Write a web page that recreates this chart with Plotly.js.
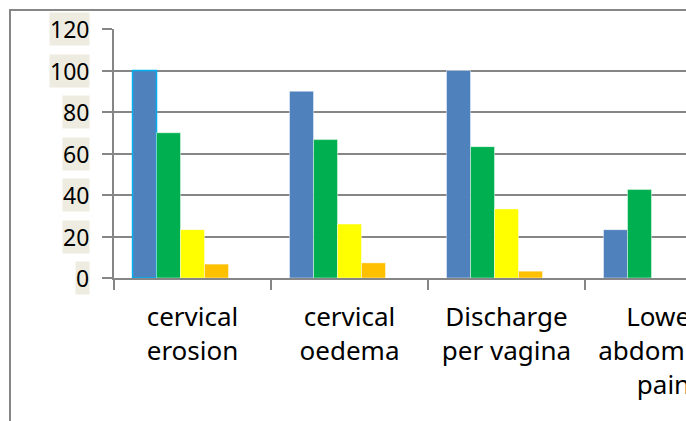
<!DOCTYPE html>
<html>
<head>
<meta charset="utf-8">
<script src="https://cdn.plot.ly/plotly-3.0.1.min.js"></script>
<style>html,body{margin:0;padding:0;background:#fff;}#chart{width:686px;height:421px;}</style>
</head>
<body>
<div id="chart"></div>
<script>
// Data
var categories = ['cervical<br>erosion', 'cervical<br>oedema', 'Discharge<br>per vagina', 'Lower<br>abdominal<br>pain'];
var series1 = [100, 90, 100, 23.3];
var series2 = [70, 66.7, 63.3, 42.7];
var series3 = [23.3, 26, 33.3, 0];
var series4 = [6.7, 7.3, 3.3, 0];
var series5 = [0, 0, 0, 0];
var yTicks = [0, 20, 40, 60, 80, 100, 120];

var colors = ['#4F81BD', '#00B050', '#FFFF00', '#FFC000', '#8064A2'];
var allSeries = [series1, series2, series3, series4, series5];

var traces = allSeries.map(function (vals, i) {
  var lineColors = vals.map(function () { return 'rgba(255,255,255,0.45)'; });
  var lineWidths = vals.map(function () { return 1; });
  if (i === 0) { lineColors[0] = '#00B0F0'; lineWidths[0] = 1.5; }
  return {
    type: 'bar',
    x: categories,
    y: vals,
    marker: { color: colors[i], line: { color: lineColors, width: lineWidths } },
    hoverinfo: 'none'
  };
});

var plotLeft = 114, plotW = 572, plotTop = 29, plotH = 249;
function px2paperX(px) { return (px - plotLeft) / plotW; }
function px2paperY(py) { return (plotTop + plotH - py) / plotH; }

var annotations = yTicks.map(function (v) {
  return {
    xref: 'paper', yref: 'y',
    x: px2paperX(90), y: v,
    xanchor: 'right', yanchor: 'middle',
    text: String(v),
    showarrow: false,
    bgcolor: '#EEECE1',
    borderpad: 0,
    font: { family: 'Noto Sans, sans-serif', size: 23, color: '#000' }
  };
});

var layout = {
  width: 686, height: 421,
  margin: { l: plotLeft, r: 0, t: plotTop, b: 421 - plotTop - plotH, pad: 0 },
  paper_bgcolor: '#ffffff',
  plot_bgcolor: '#ffffff',
  showlegend: false,
  barmode: 'group',
  bargap: 0.236,
  bargroupgap: 0,
  font: { family: 'Noto Sans, sans-serif', color: '#000' },
  xaxis: {
    type: 'category',
    range: [-0.5, -0.5 + plotW / 157],
    showgrid: false,
    showline: true, linecolor: '#868686', linewidth: 2,
    ticks: 'outside', tickson: 'boundaries', ticklen: 10, tickwidth: 2, tickcolor: '#868686',
    tickfont: { family: 'Noto Sans, sans-serif', size: 26, color: '#000' },
    ticklabelstandoff: 15,
    zeroline: false,
    fixedrange: true
  },
  yaxis: {
    range: [0, 120],
    tickvals: yTicks,
    showticklabels: false,
    showgrid: true, gridcolor: '#868686', gridwidth: 2,
    showline: true, linecolor: '#868686', linewidth: 2,
    ticks: 'outside', ticklen: 10, tickwidth: 2, tickcolor: '#868686',
    zeroline: false,
    fixedrange: true
  },
  annotations: annotations,
  shapes: [{
    type: 'rect', xref: 'paper', yref: 'paper',
    x0: px2paperX(10), x1: 1.3,
    y0: -1, y1: px2paperY(10),
    line: { color: '#878787', width: 2 },
    fillcolor: 'rgba(0,0,0,0)',
    layer: 'below'
  }]
};

Plotly.newPlot('chart', traces, layout, { displayModeBar: false, staticPlot: true });
</script>
</body>
</html>
